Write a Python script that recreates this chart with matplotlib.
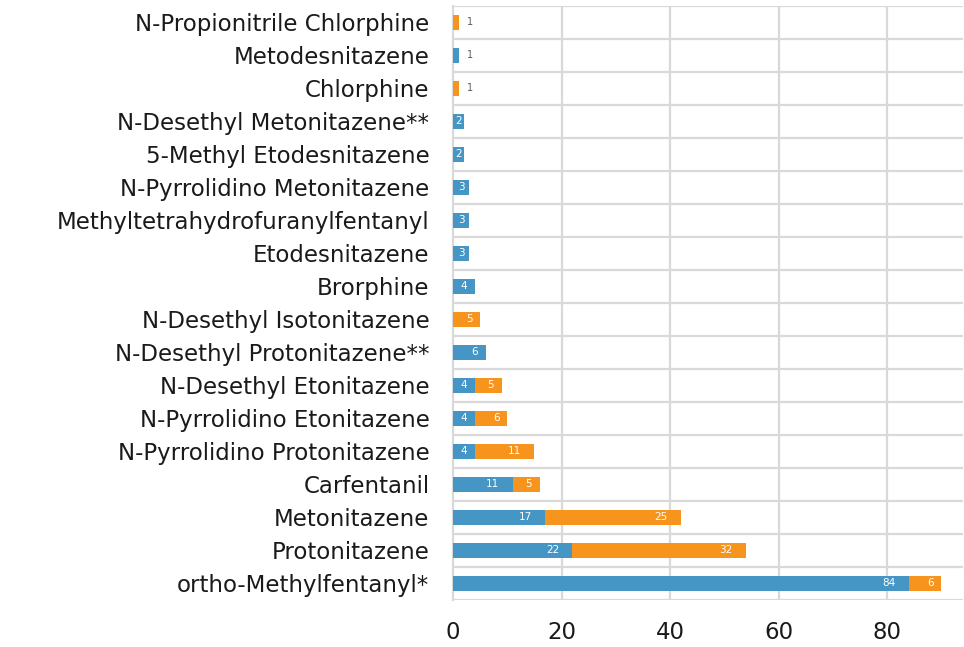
import matplotlib
matplotlib.use("Agg")
import matplotlib.pyplot as plt
import numpy as np

# bottom to top
drugs = [
    "ortho-Methylfentanyl*", "Protonitazene", "Metonitazene", "Carfentanil",
    "N-Pyrrolidino Protonitazene", "N-Pyrrolidino Etonitazene",
    "N-Desethyl Etonitazene", "N-Desethyl Protonitazene**",
    "N-Desethyl Isotonitazene", "Brorphine", "Etodesnitazene",
    "Methyltetrahydrofuranylfentanyl", "N-Pyrrolidino Metonitazene",
    "5-Methyl Etodesnitazene", "N-Desethyl Metonitazene**", "Chlorphine",
    "Metodesnitazene", "N-Propionitrile Chlorphine",
]
blue_vals = [84, 22, 17, 11, 4, 4, 4, 6, 0, 4, 3, 3, 3, 2, 2, 0, 1, 0]
orange_vals = [6, 32, 25, 5, 11, 6, 5, 0, 5, 0, 0, 0, 0, 0, 0, 1, 0, 1]
xticks = [0, 20, 40, 60, 80]

BLUE = "#4596C5"
ORANGE = "#F7941E"
GRID = "#d9d9d9"

plt.rcParams["font.family"] = "DejaVu Sans"

fig = plt.figure(figsize=(9.64, 6.47), dpi=100)
ax = fig.add_axes([0.47, 0.073, 0.529, 0.918])

y = np.arange(len(drugs))
h = 0.46
ax.barh(y, blue_vals, h, color=BLUE, zorder=3)
ax.barh(y, orange_vals, h, left=blue_vals, color=ORANGE, zorder=3)

ax.set_xlim(0, 94)
ax.set_ylim(-0.5, len(drugs) - 0.5)

px_per_unit = (0.529 * 964) / 94


def put_label(start, val):
    if val <= 0:
        return
    end = start + val
    wpx = val * px_per_unit
    if val == 1:
        ax.text(end + 12 / px_per_unit, yi, str(val), ha="center", va="center",
                fontsize=7, color="#595959", zorder=4)
        return
    if wpx < 36:
        xc = end - min(wpx / 2, 11) / px_per_unit
    else:
        xc = end - 20 / px_per_unit
    ax.text(xc, yi, str(val), ha="center", va="center", fontsize=7.5,
            color="white", zorder=4)


for yi, b, o in zip(y, blue_vals, orange_vals):
    put_label(0, b)
    put_label(b, o)

ax.set_yticks(y)
ax.set_yticklabels(drugs, fontsize=16.5, color="#1a1a1a")
ax.set_xticks(xticks)
ax.set_xticklabels([str(t) for t in xticks], fontsize=16.5, color="#1a1a1a")
ax.tick_params(axis="both", length=0)
ax.tick_params(axis="y", pad=17)
ax.tick_params(axis="x", pad=15)

for v in xticks[1:]:
    ax.axvline(v, color=GRID, lw=1.6, zorder=1)
for b in np.arange(-0.5, len(drugs), 1.0):
    ax.axhline(b, color=GRID, lw=1.6, zorder=1)

for s in ["top", "right", "bottom"]:
    ax.spines[s].set_visible(False)
ax.spines["left"].set_color(GRID)
ax.spines["left"].set_linewidth(1.6)

fig.savefig("out.png", dpi=100)
